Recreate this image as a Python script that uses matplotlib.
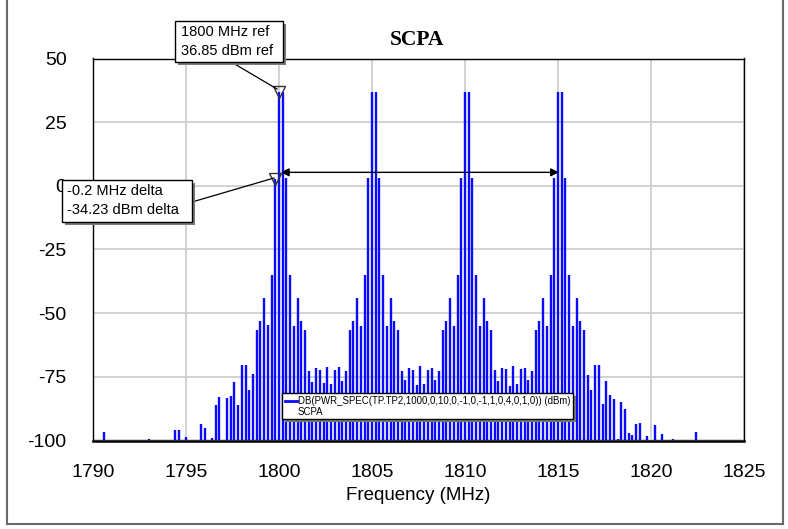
import matplotlib
matplotlib.use("Agg")
import matplotlib.pyplot as plt
from matplotlib.patches import Rectangle
from matplotlib.lines import Line2D

plt.rcParams["axes.unicode_minus"] = False

# ---------------- data ----------------
freq_mhz = [
    1790.6, 1793.0, 1794.4, 1794.6, 1795.0, 1795.8, 1796.0, 1796.4, 1796.6, 1796.8,
    1797.2, 1797.4, 1797.6, 1797.8, 1798.0, 1798.2, 1798.4, 1798.6, 1798.8, 1799.0,
    1799.2, 1799.4, 1799.6, 1799.8, 1800.0, 1800.2, 1800.4, 1800.6, 1800.8, 1801.0,
    1801.2, 1801.4, 1801.6, 1801.8, 1802.0, 1802.2, 1802.4, 1802.6, 1802.8, 1803.0,
    1803.2, 1803.4, 1803.6, 1803.8, 1804.0, 1804.2, 1804.4, 1804.6, 1804.8, 1805.0,
    1805.2, 1805.4, 1805.6, 1805.8, 1806.0, 1806.2, 1806.4, 1806.6, 1806.8, 1807.0,
    1807.2, 1807.4, 1807.6, 1807.8, 1808.0, 1808.2, 1808.4, 1808.6, 1808.8, 1809.0,
    1809.2, 1809.4, 1809.6, 1809.8, 1810.0, 1810.2, 1810.4, 1810.6, 1810.8, 1811.0,
    1811.2, 1811.4, 1811.6, 1811.8, 1812.0, 1812.2, 1812.4, 1812.6, 1812.8, 1813.0,
    1813.2, 1813.4, 1813.6, 1813.8, 1814.0, 1814.2, 1814.4, 1814.6, 1814.8, 1815.0,
    1815.2, 1815.4, 1815.6, 1815.8, 1816.0, 1816.2, 1816.4, 1816.6, 1816.8, 1817.0,
    1817.2, 1817.4, 1817.6, 1817.8, 1818.0, 1818.2, 1818.4, 1818.6, 1818.8, 1819.0,
    1819.2, 1819.4, 1819.8, 1820.2, 1820.6, 1821.2, 1822.4,
]
level_dbm = [
    -96.7, -99.3, -96.0, -96.0, -98.7, -93.4, -95.2, -99.0, -86.0, -83.0,
    -83.2, -82.7, -77.0, -86.0, -70.5, -70.5, -80.3, -74.0, -56.5, -53.0,
    -44.1, -54.7, -35.0, 2.62, 36.85, 36.85, 3.0, -35.0, -55.0, -44.0,
    -53.0, -56.6, -72.8, -77.0, -71.4, -72.4, -77.4, -71.0, -78.0, -72.4,
    -71.0, -76.8, -72.8, -56.6, -53.0, -44.0, -55.0, -35.0, 3.0, 37.0,
    37.0, 3.0, -35.0, -55.0, -44.0, -53.0, -56.6, -72.8, -76.4, -71.4,
    -72.4, -78.3, -70.9, -77.7, -72.4, -71.4, -76.4, -72.8, -56.6, -53.0,
    -44.0, -55.0, -35.0, 3.0, 37.0, 37.0, 3.0, -35.0, -55.0, -44.0,
    -53.0, -56.6, -72.4, -76.8, -71.4, -72.0, -78.7, -70.9, -78.0, -72.0,
    -71.4, -76.4, -72.8, -56.6, -53.0, -44.0, -55.0, -35.0, 3.0, 37.0,
    37.0, 3.0, -35.0, -55.0, -44.0, -53.0, -56.6, -74.4, -80.3, -70.5,
    -70.5, -85.6, -76.8, -82.3, -83.6, -99.3, -84.9, -87.5, -97.1, -97.8,
    -93.4, -93.0, -98.4, -94.1, -97.6, -99.3, -96.5,
]
x_ticks = [1790, 1795, 1800, 1805, 1810, 1815, 1820, 1825]
y_ticks = [-100, -75, -50, -25, 0, 25, 50]

ref_marker = (1800.0, 36.85)
delta_marker = (1799.8, 2.62)
ref_text = "1800 MHz ref\n36.85 dBm ref"
delta_text = "-0.2 MHz delta\n-34.23 dBm delta"
legend_line1 = "DB(PWR_SPEC(TP.TP2,1000,0,10,0,-1,0,-1,1,0,4,0,1,0)) (dBm)"
legend_line2 = "SCPA"
title = "SCPA"
xlabel = "Frequency (MHz)"

# ---------------- figure ----------------
W, H = 788, 529
fig = plt.figure(figsize=(W / 100, H / 100), dpi=100)
fig.patch.set_facecolor("white")

def fx(px):
    return px / W

def fy(py):
    return 1 - py / H

ax_l, ax_r, ax_t, ax_b = 93, 744, 58.5, 440.5
ax = fig.add_axes([fx(ax_l), fy(ax_b), (ax_r - ax_l) / W, (ax_b - ax_t) / H])
ax.set_xlim(1790, 1825)
ax.set_ylim(-100, 50)
ax.set_xticks(x_ticks)
ax.set_yticks(y_ticks)
ax.grid(True, color="#cfcfcf", linewidth=1.3, zorder=0)
ax.set_axisbelow(True)
ax.tick_params(length=0, labelsize=14)
for lab in ax.get_xticklabels() + ax.get_yticklabels():
    lab.set_fontfamily("Liberation Sans")
ax.tick_params(axis="x", pad=17)
ax.tick_params(axis="y", pad=19)
for s in ax.spines.values():
    s.set_color("black")
    s.set_linewidth(1.0)
ax.spines["bottom"].set_linewidth(1.8)

ax.vlines(freq_mhz, -100, level_dbm, colors="#0a0aff", linewidth=1.7, zorder=2)

ax.set_xlabel(xlabel, fontsize=13.5, family="Liberation Sans", labelpad=4)
fig.text(fx(417), fy(40), title, fontsize=15.5, fontweight="bold",
         family="Liberation Serif", ha="center", va="center")

# markers
ax.plot(*ref_marker, marker="v", markersize=8, markerfacecolor="none",
        markeredgecolor="#333333", markeredgewidth=1.0, zorder=5, clip_on=False)
ax.plot(*delta_marker, marker="v", markersize=8, markerfacecolor="none",
        markeredgecolor="#333333", markeredgewidth=1.0, zorder=5, clip_on=False)

# delta arrow
ax.annotate("", xy=(1815.05, 5.3), xytext=(1800.1, 5.3),
            arrowprops=dict(arrowstyle="<|-|>", color="black", lw=1.0,
                            mutation_scale=12, shrinkA=0, shrinkB=0), zorder=6)

def box(x0, y0, x1, y1, z=10):
    sh = Rectangle((fx(x0 + 3), fy(y1 + 3)), (x1 - x0) / W, (y1 - y0) / H,
                   transform=fig.transFigure, facecolor="#7a7a7a",
                   edgecolor="none", zorder=z)
    bx = Rectangle((fx(x0), fy(y1)), (x1 - x0) / W, (y1 - y0) / H,
                   transform=fig.transFigure, facecolor="white",
                   edgecolor="black", linewidth=1.0, zorder=z + 1)
    fig.add_artist(sh)
    fig.add_artist(bx)

# ref annotation box
fig.add_artist(Line2D([fx(233), fx(277)], [fy(63), fy(89)], color="black", lw=0.9, zorder=9))
box(175, 21, 283, 62)
fig.text(fx(181), fy(41.5), ref_text, fontsize=10.5, family="Liberation Sans",
         ha="left", va="center", linespacing=1.45, zorder=12)

# delta annotation box
fig.add_artist(Line2D([fx(192), fx(274)], [fy(202), fy(178)], color="black", lw=0.9, zorder=9))
box(62, 180, 192, 222)
fig.text(fx(67), fy(200.5), delta_text, fontsize=10.5, family="Liberation Sans",
         ha="left", va="center", linespacing=1.45, zorder=12)

# legend box
box(282, 393, 573, 419)
fig.add_artist(Line2D([fx(285), fx(297)], [fy(401), fy(401)], color="#0a0aff", lw=2.0, zorder=12))
fig.text(fx(298), fy(401), legend_line1, fontsize=6.9, family="Liberation Sans",
         ha="left", va="center", zorder=12)
fig.text(fx(298), fy(412), legend_line2, fontsize=6.9, family="Liberation Sans",
         ha="left", va="center", zorder=12)

# outer frame
frame_c = "#6a6a6a"
fig.add_artist(Line2D([fx(7), fx(7)], [fy(0), fy(524)], color=frame_c, lw=1.5))
fig.add_artist(Line2D([fx(7), fx(783)], [fy(524), fy(524)], color=frame_c, lw=1.5))
fig.add_artist(Line2D([fx(783), fx(783)], [fy(0), fy(524)], color=frame_c, lw=1.5))

fig.savefig("out.png", dpi=100, facecolor="white")
